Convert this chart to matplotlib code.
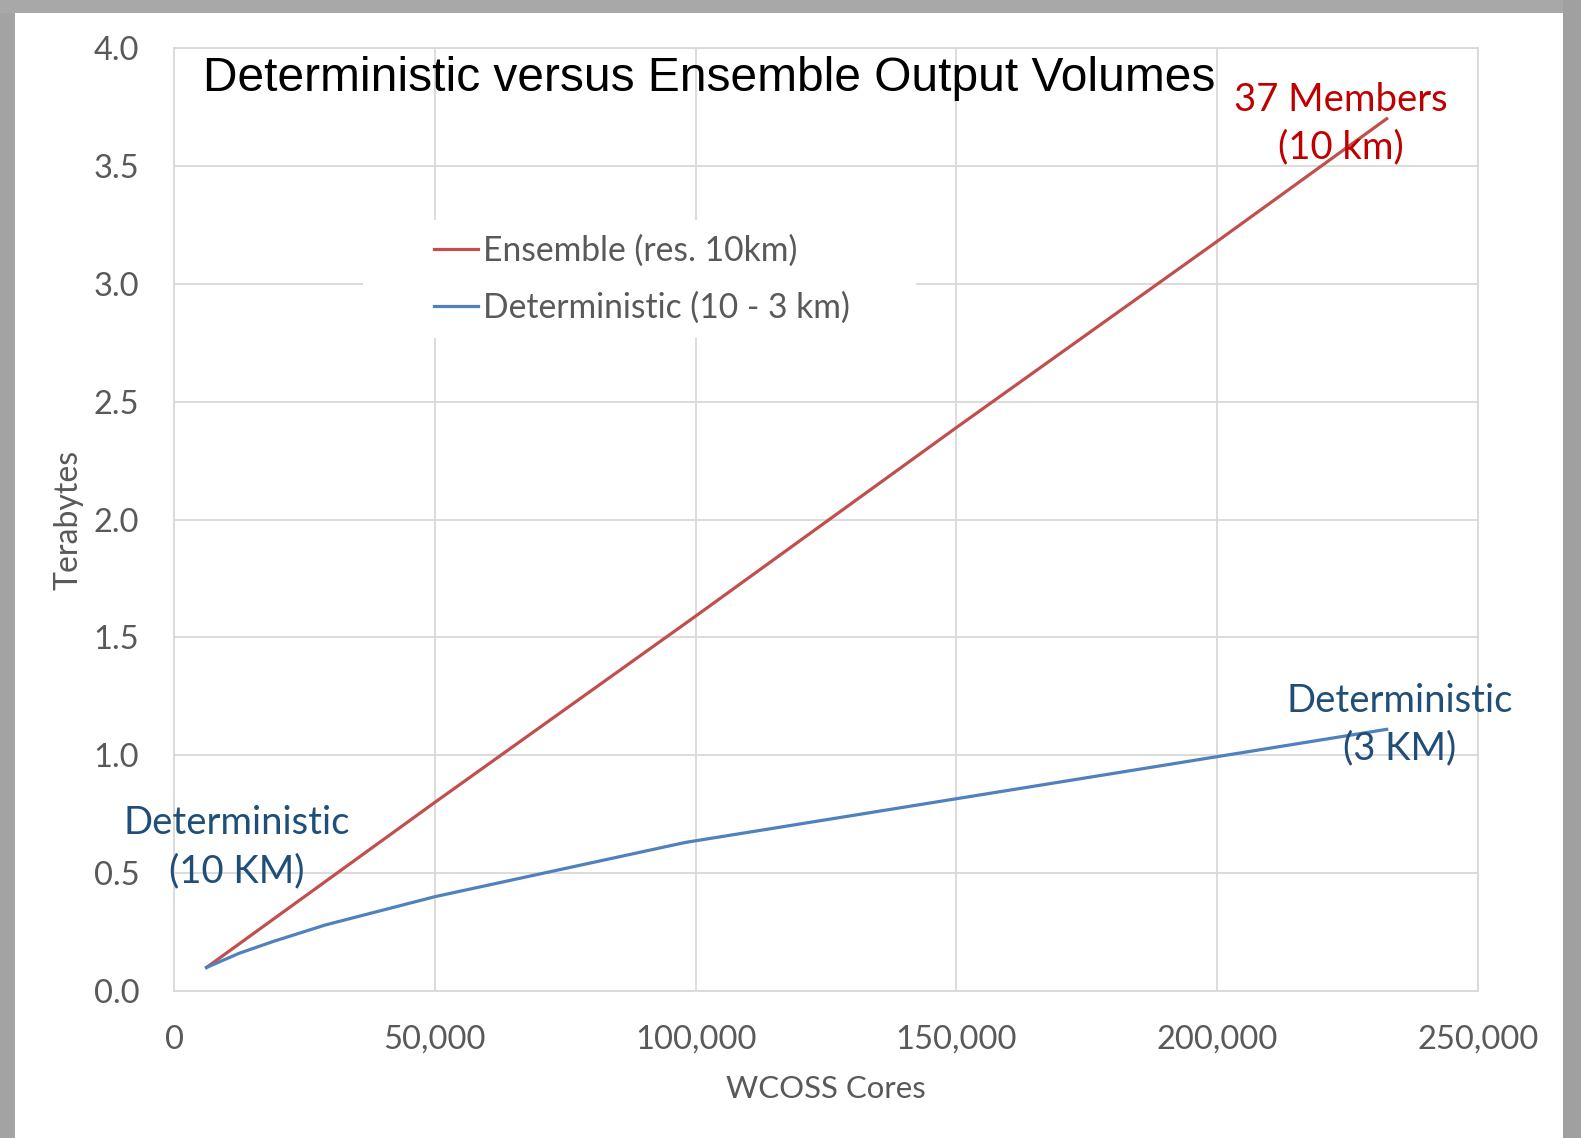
import matplotlib
matplotlib.use('Agg')
import matplotlib.pyplot as plt
from matplotlib.patches import Rectangle
from matplotlib.ticker import FuncFormatter

# values
ens_cores = [6250, 50000, 100000, 150000, 200000, 232500]
ens_tb    = [0.10, 0.80, 1.59, 2.39, 3.18, 3.70]

det_cores = [6250, 12500, 19000, 29000, 50000, 98000, 232500]
det_tb    = [0.10, 0.16, 0.21, 0.28, 0.40, 0.63, 1.11]

series_labels = ['Ensemble (res. 10km)', 'Deterministic (10 - 3 km)']
x_ticks = [0, 50000, 100000, 150000, 200000, 250000]
y_ticks = [0.0, 0.5, 1.0, 1.5, 2.0, 2.5, 3.0, 3.5, 4.0]

RED   = '#C0504D'
BLUE  = '#4F81BD'
GREY  = '#595959'
GRID  = '#D9D9D9'
FONT  = 'Lato'

W, H = 1581, 1138
fig = plt.figure(figsize=(W / 100, H / 100), dpi=100)
fig.patch.set_facecolor('white')

# slide frame (grey bands left, top, right)
fig.patches.append(Rectangle((0, 0), 15 / W, 1, transform=fig.transFigure,
                             facecolor='#A3A3A3', edgecolor='none', zorder=0))
fig.patches.append(Rectangle((0, 1 - 13 / H), 1, 13 / H, transform=fig.transFigure,
                             facecolor='#A8A8A8', edgecolor='none', zorder=0))
fig.patches.append(Rectangle((1563 / W, 0), 18 / W, 1, transform=fig.transFigure,
                             facecolor='#A0A0A0', edgecolor='none', zorder=0))

ax = fig.add_axes([174 / W, (H - 991) / H, 1304 / W, 943 / H])
ax.set_xlim(0, 250000)
ax.set_ylim(0, 4.0)
ax.set_axisbelow(True)
ax.grid(True, color=GRID, linewidth=1.3)
for sp in ax.spines.values():
    sp.set_color(GRID)
    sp.set_linewidth(1.3)

ax.plot(ens_cores, ens_tb, color=RED, linewidth=2.3, label=series_labels[0], zorder=3)
ax.plot(det_cores, det_tb, color=BLUE, linewidth=2.3, label=series_labels[1], zorder=3)

ax.set_xticks(x_ticks)
ax.set_yticks(y_ticks)
ax.xaxis.set_major_formatter(FuncFormatter(lambda v, p: f'{int(v):,}'))
ax.yaxis.set_major_formatter(FuncFormatter(lambda v, p: f'{v:.1f}'))
ax.tick_params(length=0, labelsize=23.5, colors=GREY)
ax.tick_params(axis='y', pad=25)
ax.tick_params(axis='x', pad=24.5)
for lab in ax.get_xticklabels() + ax.get_yticklabels():
    lab.set_fontfamily(FONT)

ax.set_xlabel('WCOSS Cores', fontsize=22.4, color=GREY, family=FONT, labelpad=14.5)
ax.set_ylabel('Terabytes', fontsize=23, color=GREY, family=FONT, labelpad=7)

# white box behind the legend hides the gridlines
ax.add_patch(Rectangle(((363 - 174) / 1304, (991 - 338) / 943), 553 / 1304, 118 / 943,
                       transform=ax.transAxes, facecolor='white', edgecolor='none', zorder=1.5))
leg = ax.legend(loc='center left', bbox_to_anchor=((434 - 174) / 1304, (991 - 279) / 943),
                frameon=False, borderpad=0, borderaxespad=0, handlelength=1.3,
                handletextpad=0.15, labelspacing=0.75,
                prop={'family': FONT, 'size': 24.2})
for t in leg.get_texts():
    t.set_color(GREY)

fig.text(203 / W, 1 - 91 / H, 'Deterministic versus Ensemble Output Volumes',
         fontsize=34.5, family='Liberation Sans', color='black', va='baseline', ha='left')

ax.text(223700, 3.68, '37 Members\n(10 km)', color='#C00000', fontsize=27.5,
        family=FONT, ha='center', va='center', linespacing=1.4, zorder=4)
ax.text(235000, 1.13, 'Deterministic\n(3 KM)', color='#1F4E79', fontsize=27.5,
        family=FONT, ha='center', va='center', linespacing=1.4, zorder=4, clip_on=False)
ax.text(12080, 0.61, 'Deterministic\n(10 KM)', color='#1F4E79', fontsize=27.5,
        family=FONT, ha='center', va='center', linespacing=1.4, zorder=4, clip_on=False)

fig.savefig('out.png', dpi=100)
